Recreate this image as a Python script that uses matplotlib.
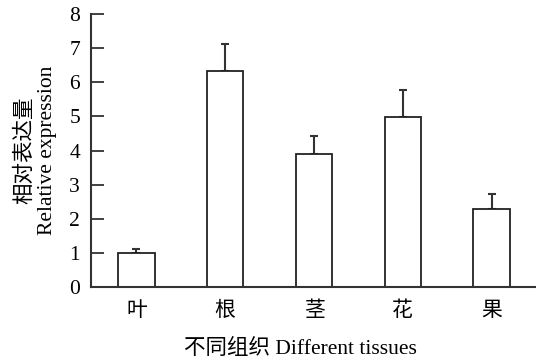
import matplotlib
matplotlib.use("Agg")
import matplotlib.pyplot as plt

categories = ["叶", "根", "茎", "花", "果"]
values = [1.0, 6.32, 3.89, 4.99, 2.29]
errors = [0.11, 0.80, 0.54, 0.77, 0.43]
yticks = [0, 1, 2, 3, 4, 5, 6, 7, 8]

FAM = ["Liberation Serif", "Noto Sans CJK SC", "DejaVu Sans"]
plt.rcParams["font.family"] = FAM

fig = plt.figure(figsize=(5.36, 3.61), dpi=100)
ax = fig.add_axes([0.170, 0.205, 0.830, 0.756])

x = list(range(len(categories)))
ax.bar(x, values, width=0.41, color="white", edgecolor="#222222", linewidth=1.3, zorder=2)
ax.errorbar(x, values, yerr=[[0] * len(errors), errors], fmt="none",
            ecolor="#333333", elinewidth=1.5, capsize=3, capthick=1.5, zorder=1)

ax.set_xlim(-0.51, 4.50)
ax.set_ylim(0, 8)
ax.set_yticks(yticks)
ax.set_yticklabels([str(t) for t in yticks], fontsize=15.5)
ax.set_xticks(x)
ax.set_xticklabels(categories, fontsize=15, family=["Noto Sans CJK SC"])
ax.tick_params(axis="x", length=0, pad=9)
ax.tick_params(axis="y", direction="in", length=9, width=1.3, pad=8, color="#333333")

for s in ["top", "right"]:
    ax.spines[s].set_visible(False)
for s in ["left", "bottom"]:
    ax.spines[s].set_linewidth(1.5)
    ax.spines[s].set_color("#333333")

ax.set_ylabel("相对表达量\nRelative expression", fontsize=15.5, linespacing=1.15, labelpad=9)
ax.set_xlabel("不同组织 Different tissues", fontsize=15.5)
ax.xaxis.set_label_coords(0.47, -0.19)

fig.savefig("out.png", dpi=100)
